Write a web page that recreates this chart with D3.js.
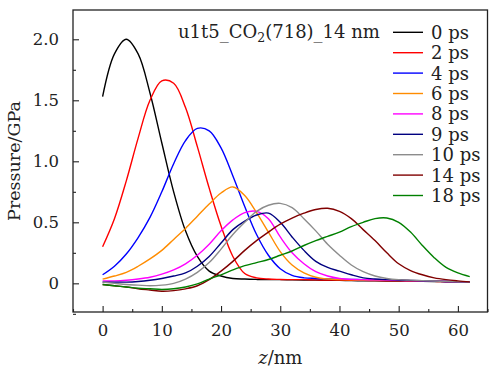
<!DOCTYPE html>
<html>
<head>
<meta charset="utf-8">
<script src="https://cdn.jsdelivr.net/npm/d3@7"></script>
<style>
  html, body { margin: 0; padding: 0; background: #fff; }
  svg { display: block; }
  text { font-family: "DejaVu Serif", serif; fill: #222; }
</style>
</head>
<body>
<svg id="chart" width="489" height="369"></svg>
<script>
// Position along z (nm), sampled every 2 nm
const zValues = [0, 2, 4, 6, 8, 10, 12, 14, 16, 18, 20, 22, 24, 26, 28, 30,
                 32, 34, 36, 38, 40, 42, 44, 46, 48, 50, 52, 54, 56, 58, 60, 62];

// Pressure profiles (GPa) at each time step
const p0ps  = [1.53, 1.88, 2.00, 1.88, 1.56, 1.15, 0.75, 0.43, 0.22, 0.10, 0.06, 0.04, 0.035, 0.032, 0.03, 0.03,
               0.028, 0.027, 0.026, 0.025, 0.024, 0.022, 0.021, 0.02, 0.019, 0.018, 0.017, 0.016, 0.015, 0.013, 0.012, 0.011];
const p2ps  = [0.30, 0.53, 0.84, 1.19, 1.50, 1.66, 1.64, 1.44, 1.12, 0.78, 0.47, 0.22, 0.08, 0.045, 0.035, 0.032,
               0.03, 0.03, 0.028, 0.027, 0.026, 0.025, 0.024, 0.022, 0.021, 0.02, 0.018, 0.017, 0.016, 0.014, 0.012, 0.011];
const p4ps  = [0.07, 0.14, 0.24, 0.375, 0.54, 0.75, 0.98, 1.17, 1.27, 1.25, 1.11, 0.88, 0.63, 0.40, 0.23, 0.12,
               0.065, 0.045, 0.04, 0.036, 0.034, 0.032, 0.03, 0.028, 0.026, 0.024, 0.022, 0.02, 0.018, 0.015, 0.013, 0.011];
const p6ps  = [0.035, 0.06, 0.09, 0.14, 0.20, 0.27, 0.36, 0.45, 0.55, 0.65, 0.74, 0.79, 0.72, 0.58, 0.42, 0.26,
               0.15, 0.085, 0.05, 0.035, 0.03, 0.028, 0.027, 0.026, 0.025, 0.024, 0.022, 0.02, 0.018, 0.015, 0.013, 0.011];
const p8ps  = [0.02, 0.02, 0.025, 0.035, 0.05, 0.075, 0.11, 0.16, 0.23, 0.32, 0.43, 0.52, 0.58, 0.59, 0.53, 0.38,
               0.25, 0.16, 0.095, 0.06, 0.04, 0.032, 0.03, 0.028, 0.026, 0.024, 0.022, 0.02, 0.018, 0.015, 0.013, 0.011];
const p9ps  = [0.01, 0.01, 0.01, 0.015, 0.025, 0.04, 0.06, 0.085, 0.14, 0.22, 0.33, 0.44, 0.51, 0.56, 0.575, 0.50,
               0.38, 0.27, 0.18, 0.13, 0.10, 0.07, 0.045, 0.035, 0.03, 0.027, 0.024, 0.021, 0.018, 0.015, 0.013, 0.011];
const p10ps = [0.01, 0.0, -0.01, -0.015, -0.02, -0.015, 0.0, 0.035, 0.09, 0.17, 0.28, 0.40, 0.50, 0.59, 0.64, 0.655,
               0.62, 0.53, 0.43, 0.32, 0.23, 0.15, 0.095, 0.06, 0.04, 0.03, 0.026, 0.022, 0.019, 0.016, 0.013, 0.011];
const p14ps = [-0.01, -0.02, -0.03, -0.045, -0.055, -0.065, -0.06, -0.045, -0.02, 0.03, 0.10, 0.18, 0.27, 0.35, 0.42, 0.485,
               0.535, 0.575, 0.605, 0.615, 0.59, 0.53, 0.44, 0.35, 0.25, 0.16, 0.105, 0.07, 0.045, 0.03, 0.02, 0.012];
const p18ps = [-0.01, -0.02, -0.03, -0.04, -0.045, -0.05, -0.045, -0.03, -0.005, 0.035, 0.07, 0.11, 0.145, 0.17, 0.195, 0.23,
               0.265, 0.31, 0.35, 0.385, 0.42, 0.465, 0.50, 0.53, 0.535, 0.50, 0.42, 0.31, 0.21, 0.13, 0.085, 0.055];

const seriesLabels = ["0 ps", "2 ps", "4 ps", "6 ps", "8 ps", "9 ps", "10 ps", "14 ps", "18 ps"];
const seriesValues = [p0ps, p2ps, p4ps, p6ps, p8ps, p9ps, p10ps, p14ps, p18ps];
const seriesColors = ["#000000", "#ff0000", "#0000ff", "#ff8c00", "#ff00ff", "#000080", "#8c8c8c", "#800000", "#008000"];

const xTicks = [0, 10, 20, 30, 40, 50, 60];
const xMinorTicks = [-5, 5, 15, 25, 35, 45, 55, 65];
const yTicks = [0, 0.5, 1.0, 1.5, 2.0];
const yTickLabels = ["0", "0.5", "1.0", "1.5", "2.0"];
const yMinorTicks = [-0.25, 0.25, 0.75, 1.25, 1.75];

const svg = d3.select("#chart");
const plot = { left: 73, right: 487.5, top: 10, bottom: 312 };

const x = d3.scaleLinear().domain([-5, 65]).range([plot.left, plot.right]);
const y = d3.scaleLinear().domain([-0.235, 2.24]).range([plot.bottom, plot.top]);

// Clip so nothing strays outside the frame
svg.append("clipPath").attr("id", "plotClip")
  .append("rect")
  .attr("x", plot.left).attr("y", plot.top)
  .attr("width", plot.right - plot.left).attr("height", plot.bottom - plot.top);

// Curves
const line = d3.line()
  .x(d => x(d[0]))
  .y(d => y(d[1]))
  .curve(d3.curveCatmullRom.alpha(0.5));

const curves = svg.append("g").attr("clip-path", "url(#plotClip)");
seriesValues.forEach((vals, i) => {
  curves.append("path")
    .datum(zValues.map((z, k) => [z, vals[k]]))
    .attr("fill", "none")
    .attr("stroke", seriesColors[i])
    .attr("stroke-width", 1.4)
    .attr("stroke-linejoin", "round")
    .attr("d", line);
});

// Frame
svg.append("rect")
  .attr("x", plot.left).attr("y", plot.top)
  .attr("width", plot.right - plot.left).attr("height", plot.bottom - plot.top)
  .attr("fill", "none").attr("stroke", "#222").attr("stroke-width", 1.3);

// Bottom axis: inward ticks, labels below
const xAxis = d3.axisBottom(x).tickValues(xTicks).tickSize(-6).tickPadding(12).tickFormat(d3.format("d"));
const gx = svg.append("g").attr("transform", `translate(0,${plot.bottom})`).call(xAxis);
const xAxisMinor = d3.axisBottom(x).tickValues(xMinorTicks).tickSize(-3).tickFormat("");
const gxm = svg.append("g").attr("transform", `translate(0,${plot.bottom})`).call(xAxisMinor);

// Left axis: inward ticks, labels to the left
const yAxis = d3.axisLeft(y).tickValues(yTicks).tickSize(-6).tickPadding(14)
  .tickFormat((d, i) => yTickLabels[i]);
const gy = svg.append("g").attr("transform", `translate(${plot.left},0)`).call(yAxis);
const yAxisMinor = d3.axisLeft(y).tickValues(yMinorTicks).tickSize(-3).tickFormat("");
const gym = svg.append("g").attr("transform", `translate(${plot.left},0)`).call(yAxisMinor);

[gx, gxm, gy, gym].forEach(g => {
  g.select(".domain").remove();
  g.selectAll(".tick line").attr("stroke", "#222").attr("stroke-width", 1.1);
  g.selectAll(".tick text")
    .style("font-family", "'DejaVu Serif', serif")
    .style("font-size", "16.5px")
    .attr("fill", "#222");
});

// Axis titles
svg.append("text")
  .attr("transform", `translate(20,${(plot.top + plot.bottom) / 2}) rotate(-90)`)
  .attr("text-anchor", "middle")
  .style("font-size", "17.5px")
  .text("Pressure/GPa");

const xTitle = svg.append("text")
  .attr("x", (plot.left + plot.right) / 2)
  .attr("y", 364)
  .attr("text-anchor", "middle")
  .style("font-size", "18px");
xTitle.append("tspan").style("font-style", "italic").text("z");
xTitle.append("tspan").text("/nm");

// Legend
const legendTitle = svg.append("text")
  .attr("x", 178).attr("y", 38)
  .style("font-size", "18px");
legendTitle.append("tspan").text("u1t5_CO");
legendTitle.append("tspan").attr("dy", 4).style("font-size", "12.5px").text("2");
legendTitle.append("tspan").attr("dy", -4).text("(718)_14 nm");

const legend = svg.append("g");
seriesLabels.forEach((lab, i) => {
  const cy = 32.3 + i * 20.4;
  legend.append("line")
    .attr("x1", 393).attr("x2", 423)
    .attr("y1", cy).attr("y2", cy)
    .attr("stroke", seriesColors[i]).attr("stroke-width", 1.4);
  legend.append("text")
    .attr("x", 431).attr("y", cy + 6.5)
    .style("font-size", "18px")
    .text(lab);
});
</script>
</body>
</html>
